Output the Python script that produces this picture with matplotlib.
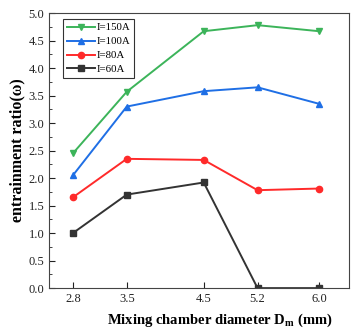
import matplotlib.pyplot as plt
from matplotlib.ticker import MultipleLocator

plt.rcParams['font.family'] = ['Liberation Serif', 'DejaVu Serif']

diameter = [2.8, 3.5, 4.5, 5.2, 6.0]
ratio_150 = [2.45, 3.57, 4.67, 4.78, 4.67]
ratio_100 = [2.05, 3.30, 3.58, 3.65, 3.35]
ratio_80 = [1.65, 2.35, 2.33, 1.78, 1.81]
ratio_60 = [1.00, 1.70, 1.92, 0.00, 0.00]

fig = plt.figure(figsize=(3.53, 3.35), dpi=100)
ax = fig.add_axes([0.139, 0.140, 0.850, 0.821])

ax.plot(diameter, ratio_150, color='#3cb45a', marker='v', markersize=5, lw=1.4, label='I=150A')
ax.plot(diameter, ratio_100, color='#1f6fe5', marker='^', markersize=5, lw=1.4, label='I=100A')
ax.plot(diameter, ratio_80, color='#ff2a2a', marker='o', markersize=4.5, lw=1.4, label='I=80A')
ax.plot(diameter, ratio_60, color='#333333', marker='s', markersize=4.5, lw=1.4, label='I=60A')

ax.set_xlim(2.49, 6.39)
ax.set_ylim(0, 5.0)
ax.set_xticks(diameter)
ax.set_xticklabels(['2.8', '3.5', '4.5', '5.2', '6.0'])
ax.yaxis.set_major_locator(MultipleLocator(0.5))
ax.yaxis.set_minor_locator(MultipleLocator(0.25))
ax.tick_params(axis='both', which='both', direction='in', labelsize=9, colors='#222222')
ax.tick_params(which='major', length=4)
ax.tick_params(which='minor', length=2.5)
for s in ax.spines.values():
    s.set_color('#444444')

ax.set_xlabel('Mixing chamber diameter D$_\\mathregular{m}$ (mm)', fontsize=10.5, fontweight='bold')
ax.xaxis.set_label_coords(0.57, -0.085)
ax.set_ylabel('entrainment ratio(ω)', fontsize=11.5, fontweight='bold', labelpad=2)

leg = ax.legend(loc='upper left', bbox_to_anchor=(0.047, 0.978), borderaxespad=0,
                fontsize=7.8, frameon=True, fancybox=False,
                edgecolor='black', handlelength=2.6, handletextpad=0.15,
                borderpad=0.35, labelspacing=0.4)
leg.get_frame().set_linewidth(0.8)

fig.savefig('out.png', dpi=100)
